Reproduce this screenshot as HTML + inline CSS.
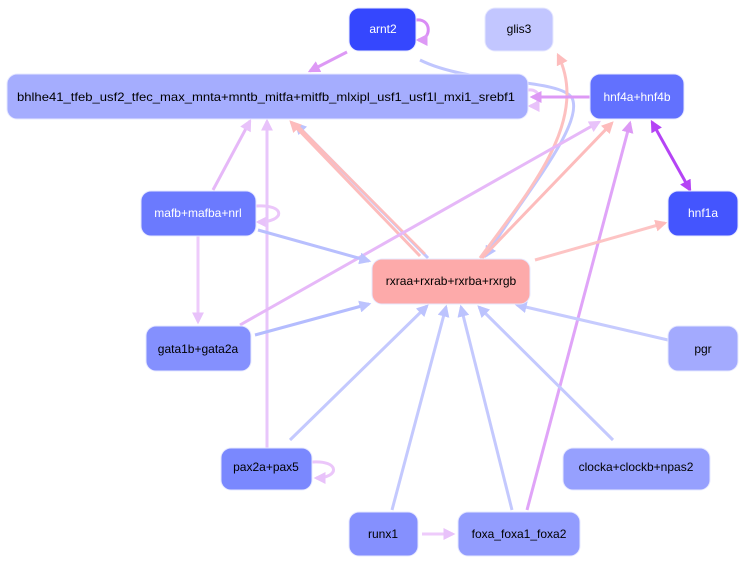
<!DOCTYPE html>
<html><head><meta charset="utf-8"><style>
html,body{margin:0;padding:0;background:#fff;width:745px;height:564px;overflow:hidden}
text{font-family:"Liberation Sans",sans-serif;font-size:12px;text-anchor:middle;dominant-baseline:central}
</style></head><body>
<svg width="745" height="564" viewBox="0 0 745 564" xmlns="http://www.w3.org/2000/svg">
<defs>
<marker id="mP" markerWidth="4" markerHeight="4" refX="3.2" refY="2" orient="auto" markerUnits="strokeWidth"><path d="M0,0L4,2L0,4z" fill="#dd99f5"/></marker>
<marker id="mL" markerWidth="4" markerHeight="4" refX="3.2" refY="2" orient="auto" markerUnits="strokeWidth"><path d="M0,0L4,2L0,4z" fill="#e8c2fa"/></marker>
<marker id="mB" markerWidth="4" markerHeight="4" refX="3.2" refY="2" orient="auto" markerUnits="strokeWidth"><path d="M0,0L4,2L0,4z" fill="#bcc3fe"/></marker>
<marker id="mR" markerWidth="4" markerHeight="4" refX="3.2" refY="2" orient="auto" markerUnits="strokeWidth"><path d="M0,0L4,2L0,4z" fill="#fdbcbc"/></marker>
<marker id="mD" markerWidth="4" markerHeight="4" refX="3.2" refY="2" orient="auto" markerUnits="strokeWidth"><path d="M0,0L4,2L0,4z" fill="#b544f5"/></marker>
<marker id="mDs" markerWidth="4" markerHeight="4" refX="3.2" refY="2" orient="auto-start-reverse" markerUnits="strokeWidth"><path d="M0,0L4,2L0,4z" fill="#b544f5"/></marker>
</defs>
<g fill="none" stroke-width="3">
<!-- self loops -->
<path d="M416,20 C432,18 432,40 418,40" stroke="#d98cf5" marker-end="url(#mP)"/>
<path d="M528,90 C542,88 542,106 530,106" stroke="#ebc6fa" marker-end="url(#mL)"/>
<path d="M256,206 C286,204 286,222 258,222" stroke="#ebc6fa" marker-end="url(#mL)"/>
<path d="M312,462 C340,460 340,478 316,478" stroke="#ebc6fa" marker-end="url(#mL)"/>
<!-- arnt2 edges -->
<path d="M347,52 L310,71" stroke="#dd99f5" marker-end="url(#mP)"/>
<path d="M420,60 C470,85 560,78 572,98 C585,125 520,200 486,256" stroke="#c0c6fe" marker-end="url(#mB)"/>
<path d="M480,258 C530,190 590,120 558,55" stroke="#fdc0c0" marker-end="url(#mR)"/>
<path d="M590,97 L532,97" stroke="#dd99f5" marker-end="url(#mP)"/>
<path d="M690,190 L652,122" stroke="#b544f5" marker-end="url(#mD)" marker-start="url(#mDs)"/>
<path d="M213,190 L250,121" stroke="#e6b8f8" marker-end="url(#mL)"/>
<path d="M267,448 L267,121" stroke="#e8c6fb" marker-end="url(#mL)"/>
<path d="M428,258 L296,124" stroke="#c0c6fe" marker-end="url(#mB)"/>
<path d="M298,126 L425,254" stroke="#fdbcbc" stroke-width="2.5" marker-start="none"/>
<path d="M420,256 L291,122" stroke="#fdbcbc" marker-end="url(#mR)"/>
<path d="M240,325 L599,122" stroke="#e6b8f8" marker-end="url(#mL)"/>
<path d="M482,258 L612,123" stroke="#fdbcbc" marker-end="url(#mR)"/>
<path d="M527,510 L630,123" stroke="#e0a4f8" marker-end="url(#mP)"/>
<path d="M258,230 L369,261" stroke="#b8bffe" marker-end="url(#mB)"/>
<path d="M198,236 L198,322" stroke="#eecbfb" marker-end="url(#mL)"/>
<path d="M535,260 L665,223" stroke="#fdc4c4" marker-end="url(#mR)"/>
<path d="M255,335 L369,304" stroke="#b4bcfe" marker-end="url(#mB)"/>
<path d="M668,340 L517,305" stroke="#c6cbfe" marker-end="url(#mB)"/>
<path d="M290,440 L427,306" stroke="#c4c9fe" marker-end="url(#mB)"/>
<path d="M392,510 L446,307" stroke="#c4c9fe" marker-end="url(#mB)"/>
<path d="M512,510 L461,307" stroke="#c4c9fe" marker-end="url(#mB)"/>
<path d="M613,440 L479,307" stroke="#c4c9fe" marker-end="url(#mB)"/>
<path d="M422,534 L453,534" stroke="#eecbfb" marker-end="url(#mL)"/>
</g>
<g stroke="#e6e8ff" stroke-width="1">
<rect x="349" y="8" width="67" height="43" rx="10" fill="#3547fe"/>
<rect x="485" y="8" width="68" height="43" rx="10" fill="#c2c6ff"/>
<rect x="7" y="74" width="521" height="45" rx="10" fill="#a5adfe"/>
<rect x="590" y="74" width="94" height="45" rx="10" fill="#6271fe"/>
<rect x="668" y="191" width="70" height="45" rx="10" fill="#4455fe"/>
<rect x="141" y="191" width="115" height="45" rx="10" fill="#6b7afe"/>
<rect x="372" y="259" width="158" height="45" rx="10" fill="#fdaaaa"/>
<rect x="146" y="326" width="105" height="45" rx="10" fill="#8490fe"/>
<rect x="668" y="326" width="70" height="45" rx="10" fill="#a3aafe"/>
<rect x="221" y="448" width="91" height="42" rx="10" fill="#7a88fe"/>
<rect x="563" y="448" width="147" height="42" rx="10" fill="#96a0fe"/>
<rect x="349" y="512" width="69" height="44" rx="10" fill="#8590fe"/>
<rect x="458" y="512" width="122" height="44" rx="10" fill="#929cfe"/>
</g>
<g>
<text x="383" y="29" fill="#fff">arnt2</text>
<text x="519" y="29" fill="#000">glis3</text>
<text x="266" y="97" fill="#000" textLength="498" lengthAdjust="spacingAndGlyphs">bhlhe41_tfeb_usf2_tfec_max_mnta+mntb_mitfa+mitfb_mlxipl_usf1_usf1l_mxi1_srebf1</text>
<text x="637" y="97" fill="#fff">hnf4a+hnf4b</text>
<text x="703" y="213" fill="#fff">hnf1a</text>
<text x="198" y="213" fill="#fff">mafb+mafba+nrl</text>
<text x="451" y="281" fill="#000">rxraa+rxrab+rxrba+rxrgb</text>
<text x="198" y="349" fill="#000">gata1b+gata2a</text>
<text x="703" y="349" fill="#000">pgr</text>
<text x="266" y="467" fill="#000">pax2a+pax5</text>
<text x="636" y="467" fill="#000">clocka+clockb+npas2</text>
<text x="383" y="534" fill="#000">runx1</text>
<text x="519" y="534" fill="#000">foxa_foxa1_foxa2</text>
</g>
</svg>
</body></html>
